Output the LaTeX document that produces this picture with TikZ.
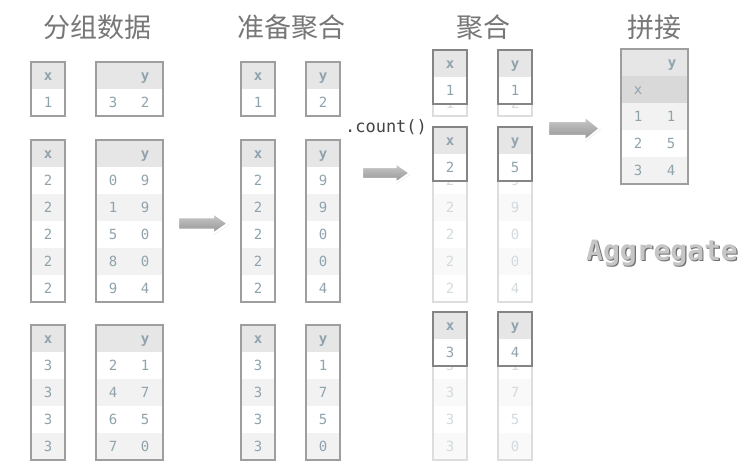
\documentclass[tikz,border=0pt]{standalone}
\usepackage{fontspec}
\setmonofont{DejaVu Sans Mono}
\newfontfamily\cjk{Noto Sans CJK SC}
\usetikzlibrary{shadows}
\definecolor{hdrfill}{HTML}{E6E6E6}
\definecolor{altfill}{HTML}{F2F2F2}
\definecolor{tblborder}{HTML}{9E9E9E}
\definecolor{boldborder}{HTML}{858585}
\definecolor{celltext}{HTML}{8FA3AD}
\definecolor{fadeborder}{HTML}{DDDDDD}
\definecolor{fadefill}{HTML}{F9F9F9}
\definecolor{fadetext}{HTML}{D3DADE}
\definecolor{titlegray}{HTML}{777777}
\definecolor{idxfill}{HTML}{D9D9D9}
\definecolor{codegray}{HTML}{444444}
\definecolor{aggfill}{HTML}{C6C6C6}
\definecolor{aggline}{HTML}{707070}
\tikzset{
  hd/.style={font=\ttfamily\bfseries\fontsize{14}{14}\selectfont, text=celltext, inner sep=0pt, anchor=base},
  val/.style={font=\ttfamily\fontsize{14}{14}\selectfont, text=celltext, inner sep=0pt, anchor=base},
  fv/.style={font=\ttfamily\fontsize{14}{14}\selectfont, text=fadetext, inner sep=0pt, anchor=base},
  title/.style={font=\cjk\fontsize{27}{27}\selectfont, text=titlegray, inner sep=0pt},
  aggsty/.style={font=\ttfamily\bfseries\fontsize{28}{28}\selectfont, inner sep=0pt},
  arrowsty/.style={top color=gray!40, bottom color=gray!85, draw=white, line width=2.2pt, line join=miter,
     drop shadow={shadow xshift=0.8pt, shadow yshift=-0.8pt, opacity=0.3, fill=black}},
}
% left, top, width, rows, border colour, alternate fill
\newcommand\gtable[6]{%
  \fill[hdrfill] (#1,#2) rectangle ++(#3,27);
  \foreach \i in {1,...,#4}{%
    \ifodd\i\relax\else\fill[#6] (#1,#2+27*\i) rectangle ++(#3,27);\fi
  }
  \draw[#5, line width=1.2pt] (#1,#2) rectangle ++(#3,27+27*#4);
}
\newcommand\ftable[4]{% faded: left, top, width, rows
  \fill[white] (#1,#2) rectangle ++(#3,27+27*#4);
  \foreach \i in {1,...,#4}{%
    \ifodd\i\relax\else\fill[fadefill] (#1,#2+27*\i) rectangle ++(#3,27);\fi
  }
  \draw[fadeborder, line width=1.2pt] (#1,#2) rectangle ++(#3,27+27*#4);
}
\newcommand\btable[3]{% bold box: left, top, width
  \fill[hdrfill] (#1,#2) rectangle ++(#3,27);
  \fill[white] (#1,#2+27) rectangle ++(#3,27);
  \draw[boldborder, line width=1.3pt] (#1,#2) rectangle ++(#3,54);
}
% name, x0, x1, yc, half head height
\newcommand\fatarrow[5]{%
  \path[arrowsty] (#2,{#4-0.6*#5}) coordinate (#1s) -- ({#3-0.3*(#3-#2)},{#4-0.6*#5})
     -- ({#3-0.3*(#3-#2)},{#4-#5}) -- (#3,#4) coordinate (#1e) -- ({#3-0.3*(#3-#2)},{#4+#5})
     -- ({#3-0.3*(#3-#2)},{#4+0.6*#5}) -- (#2,{#4+0.6*#5}) -- cycle;
}
\begin{document}
\begin{tikzpicture}[x=1pt,y=-1pt]
\useasboundingbox[fill=white] (0,0) rectangle (755,472);
% titles
\node[title] (t1) at (97,27) {分组数据};
\node[title] (t2) at (291,27) {准备聚合};
\node[title] (t3) at (483,27) {聚合};
\node[title] (t4) at (654,27) {拼接};

% ---------- column 1: grouped data ----------
\gtable{31}{62}{34}{1}{tblborder}{altfill}
\gtable{96}{62}{67}{1}{tblborder}{altfill}
\node[hd] (a1xh) at (48,80.5) {x};
\node[val] (a1x1) at (48,107.5) {1};
\node[hd] (a1yh) at (145,80.5) {y};
\node[val] (a1i1) at (113,107.5) {3};
\node[val] (a1y1) at (145,107.5) {2};

\gtable{31}{140}{34}{5}{tblborder}{altfill}
\gtable{96}{140}{67}{5}{tblborder}{altfill}
\node[hd] (a2xh) at (48,158.5) {x};
\node[hd] (a2yh) at (145,158.5) {y};
\foreach \a/\b [count=\i] in {0/9,1/9,5/0,8/0,9/4}{
  \node[val] (a2x\i) at (48,158.5+27*\i) {2};
  \node[val] (a2i\i) at (113,158.5+27*\i) {\a};
  \node[val] (a2y\i) at (145,158.5+27*\i) {\b};
}

\gtable{31}{325}{34}{4}{tblborder}{altfill}
\gtable{96}{325}{67}{4}{tblborder}{altfill}
\node[hd] (a3xh) at (48,343.5) {x};
\node[hd] (a3yh) at (145,343.5) {y};
\foreach \a/\b [count=\i] in {2/1,4/7,6/5,7/0}{
  \node[val] (a3x\i) at (48,343.5+27*\i) {3};
  \node[val] (a3i\i) at (113,343.5+27*\i) {\a};
  \node[val] (a3y\i) at (145,343.5+27*\i) {\b};
}

% ---------- column 2: prepare ----------
\gtable{241}{62}{34}{1}{tblborder}{altfill}
\gtable{306}{62}{34}{1}{tblborder}{altfill}
\node[hd] (b1xh) at (258,80.5) {x};
\node[hd] (b1yh) at (323,80.5) {y};
\node[val] (b1x1) at (258,107.5) {1};
\node[val] (b1y1) at (323,107.5) {2};

\gtable{241}{140}{34}{5}{tblborder}{altfill}
\gtable{306}{140}{34}{5}{tblborder}{altfill}
\node[hd] (b2xh) at (258,158.5) {x};
\node[hd] (b2yh) at (323,158.5) {y};
\foreach \b [count=\i] in {9,9,0,0,4}{
  \node[val] (b2x\i) at (258,158.5+27*\i) {2};
  \node[val] (b2y\i) at (323,158.5+27*\i) {\b};
}

\gtable{241}{325}{34}{4}{tblborder}{altfill}
\gtable{306}{325}{34}{4}{tblborder}{altfill}
\node[hd] (b3xh) at (258,343.5) {x};
\node[hd] (b3yh) at (323,343.5) {y};
\foreach \b [count=\i] in {1,7,5,0}{
  \node[val] (b3x\i) at (258,343.5+27*\i) {3};
  \node[val] (b3y\i) at (323,343.5+27*\i) {\b};
}

% ---------- column 3: aggregate (faded originals) ----------
\ftable{433}{62}{34}{1}
\ftable{498}{62}{34}{1}
\node[fv] (c1x1) at (450,108.5) {1};
\node[fv] (c1y1) at (515,108.5) {2};
\ftable{433}{140}{34}{5}
\ftable{498}{140}{34}{5}
\foreach \b [count=\i] in {9,9,0,0,4}{
  \node[fv] (c2x\i) at (450,158.5+27*\i) {2};
  \node[fv] (c2y\i) at (515,158.5+27*\i) {\b};
}
\ftable{433}{325}{34}{4}
\ftable{498}{325}{34}{4}
\foreach \b [count=\i] in {1,7,5,0}{
  \node[fv] (c3x\i) at (450,343.5+27*\i) {3};
  \node[fv] (c3y\i) at (515,343.5+27*\i) {\b};
}
% bold aggregated boxes
\foreach \t/\xv/\yv [count=\k] in {50/1/1,127/2/5,312/3/4}{
  \btable{433}{\t}{34}
  \btable{498}{\t}{34}
  \node[hd] (d\k xh) at (450,\t+18.5) {x};
  \node[hd] (d\k yh) at (515,\t+18.5) {y};
  \node[val] (d\k x) at (450,\t+45) {\xv};
  \node[val] (d\k y) at (515,\t+45) {\yv};
}

% ---------- column 4: combine ----------
\fill[hdrfill] (621,49) rectangle ++(67,27);
\fill[idxfill] (621,76) rectangle ++(67,27);
\fill[altfill] (621,103) rectangle ++(67,27);
\fill[altfill] (621,157) rectangle ++(67,27);
\draw[tblborder, line width=1.2pt] (621,49) rectangle (688,184);
\node[hd] (ryh) at (672,67.5) {y};
\node[val] (rxh) at (638,94.5) {x};
\foreach \a/\b [count=\i] in {1/1,2/5,3/4}{
  \node[val] (rx\i) at (638,94.5+27*\i) {\a};
  \node[val] (ry\i) at (671,94.5+27*\i) {\b};
}

% ---------- arrows ----------
\fatarrow{ar1}{178}{228}{223.5}{10.5}
\fatarrow{ar2}{362}{410}{173}{10}
\fatarrow{ar3}{548}{600}{128.5}{12.5}
\node[font=\ttfamily\fontsize{17}{17}\selectfont, text=codegray, inner sep=0pt] (cnt) at (386,127) {.count()};

% ---------- caption (embossed) ----------
\node[aggsty, text=aggline] (aggsh) at (663.2,254.2) {Aggregate};
\node[aggsty, text=aggfill] (agg) at (662,253) {Aggregate};
\end{tikzpicture}
\end{document}
